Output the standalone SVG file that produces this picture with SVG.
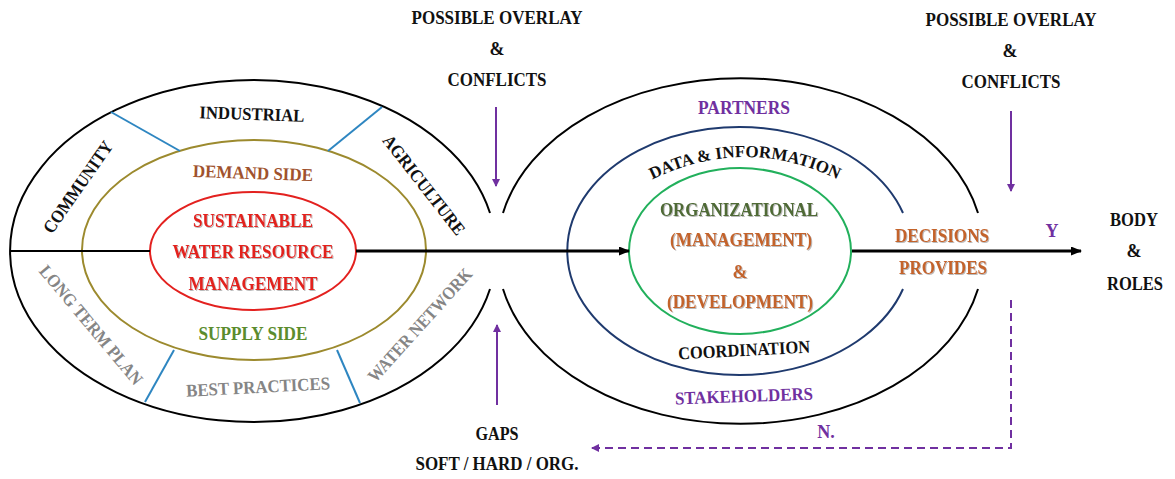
<svg xmlns="http://www.w3.org/2000/svg" width="1175" height="479" viewBox="0 0 1175 479">
<defs>
<marker id="ah" markerWidth="11" markerHeight="9" refX="10" refY="4.5" orient="auto" markerUnits="userSpaceOnUse"><path d="M0,0 L11,4.5 L0,9 Z" fill="#000"/></marker>
<marker id="ahp" markerWidth="8" markerHeight="8" refX="7" refY="4" orient="auto" markerUnits="userSpaceOnUse"><path d="M0,0 L8,4 L0,8 Z" fill="#7030A0"/></marker>
<filter id="sh" x="-10%" y="-40%" width="120%" height="180%"><feDropShadow dx="1" dy="1" stdDeviation="0.6" flood-color="#777" flood-opacity="0.5"/></filter>
<path id="arcData" d="M 638 187 Q 745 127 852 187"/>
</defs>
<style>
text{font-family:"Liberation Serif","Times New Roman",serif;font-weight:bold;font-size:18px;text-anchor:middle;fill:#111}
.red{fill:#E3211F;filter:url(#sh)}
.brown{fill:#A0522D}
.sup{fill:#5B8C2E}
.gray{fill:#858585}
.pur{fill:#7030A0}
.org{fill:#C4642C;filter:url(#sh)}
.dg{fill:#4F6B36;filter:url(#sh)}
.blk{fill:none;stroke:#000;stroke-width:2}
.div{stroke:#2E86C1;stroke-width:2}
.pa{stroke:#7030A0;stroke-width:2;fill:none}
</style>
<rect width="1175" height="479" fill="#fff"/>

<g id="left-cluster">
  <path class="blk" d="M 490 213 A 243 171 0 1 0 490 289"/>
  <ellipse cx="254" cy="250" rx="172" ry="110" fill="none" stroke="#9C8A2E" stroke-width="2"/>
  <ellipse cx="253" cy="251" rx="103" ry="59" fill="none" stroke="#E3211F" stroke-width="2"/>
  <line class="div" x1="111" y1="112" x2="180" y2="151"/>
  <line class="div" x1="382" y1="107" x2="328" y2="151"/>
  <line class="div" x1="174" y1="350" x2="145" y2="402"/>
  <line class="div" x1="337" y1="350" x2="360" y2="403"/>
  <text x="252" y="120" textLength="105" lengthAdjust="spacingAndGlyphs" transform="rotate(2 252 113)">INDUSTRIAL</text>
  <text class="brown" x="253" y="179" textLength="120" lengthAdjust="spacingAndGlyphs" transform="rotate(2 253 172)">DEMAND SIDE</text>
  <text class="red" x="253" y="227" textLength="120" lengthAdjust="spacingAndGlyphs">SUSTAINABLE</text>
  <text class="red" x="253" y="258" textLength="161" lengthAdjust="spacingAndGlyphs">WATER RESOURCE</text>
  <text class="red" x="253" y="290" textLength="129" lengthAdjust="spacingAndGlyphs">MANAGEMENT</text>
  <text class="sup" x="253" y="340" textLength="109" lengthAdjust="spacingAndGlyphs">SUPPLY SIDE</text>
  <text class="gray" x="258" y="393" textLength="144" lengthAdjust="spacingAndGlyphs" transform="rotate(-3 258 386)">BEST PRACTICES</text>
  <text x="0" y="6" textLength="108" lengthAdjust="spacingAndGlyphs" transform="translate(78 187) rotate(-55)">COMMUNITY</text>
  <text x="0" y="6" textLength="122" lengthAdjust="spacingAndGlyphs" transform="translate(424 185) rotate(52)">AGRICULTURE</text>
  <text class="gray" x="0" y="6" textLength="150" lengthAdjust="spacingAndGlyphs" transform="translate(91 325) rotate(50)">LONG TERM PLAN</text>
  <text class="gray" x="0" y="6" textLength="146" lengthAdjust="spacingAndGlyphs" transform="translate(420 325) rotate(-48)">WATER NETWORK</text>
</g>

<g id="right-cluster">
  <path class="blk" d="M 503 213 A 243 171 0 0 1 978 213"/>
  <path class="blk" d="M 503 289 A 243 171 0 0 0 978 289"/>
  <path d="M 903 213 A 172 124 0 1 0 903 289" fill="none" stroke="#1F3A6E" stroke-width="2"/>
  <ellipse cx="740" cy="251" rx="111" ry="83" fill="none" stroke="#22B05C" stroke-width="2"/>
  <text class="pur" x="744" y="114" textLength="92" lengthAdjust="spacingAndGlyphs">PARTNERS</text>
  <text style="font-size:17px"><textPath href="#arcData" startOffset="50%">DATA &amp; INFORMATION</textPath></text>
  <text class="dg" x="739" y="216" textLength="158" lengthAdjust="spacingAndGlyphs">ORGANIZATIONAL</text>
  <text class="org" x="741" y="246" textLength="142" lengthAdjust="spacingAndGlyphs">(MANAGEMENT)</text>
  <text class="org" x="740" y="278">&amp;</text>
  <text class="org" x="740" y="308" textLength="146" lengthAdjust="spacingAndGlyphs">(DEVELOPMENT)</text>
  <text x="744" y="356" textLength="132" lengthAdjust="spacingAndGlyphs" transform="rotate(-3 744 349)">COORDINATION</text>
  <text class="pur" x="744" y="402" textLength="138" lengthAdjust="spacingAndGlyphs" transform="rotate(-2 744 396)">STAKEHOLDERS</text>
  <text class="org" x="942" y="242" textLength="94" lengthAdjust="spacingAndGlyphs">DECISIONS</text>
  <text class="org" x="943" y="274" textLength="88" lengthAdjust="spacingAndGlyphs">PROVIDES</text>
</g>

<g id="overlay-top">
  <text x="497" y="24" textLength="171" lengthAdjust="spacingAndGlyphs">POSSIBLE OVERLAY</text>
  <text x="497" y="55">&amp;</text>
  <text x="497" y="86" textLength="99" lengthAdjust="spacingAndGlyphs">CONFLICTS</text>
</g>
<g id="overlay-right">
  <text x="1011" y="26" textLength="171" lengthAdjust="spacingAndGlyphs">POSSIBLE OVERLAY</text>
  <text x="1010" y="57">&amp;</text>
  <text x="1011" y="88" textLength="99" lengthAdjust="spacingAndGlyphs">CONFLICTS</text>
</g>
<g id="gaps">
  <text x="497" y="440" textLength="43" lengthAdjust="spacingAndGlyphs">GAPS</text>
  <text x="497" y="470" textLength="163" lengthAdjust="spacingAndGlyphs">SOFT / HARD / ORG.</text>
</g>
<g id="body-roles">
  <text x="1134" y="226" textLength="48" lengthAdjust="spacingAndGlyphs">BODY</text>
  <text x="1134" y="257">&amp;</text>
  <text x="1135" y="290" textLength="56" lengthAdjust="spacingAndGlyphs">ROLES</text>
</g>

<g id="connectors">
  <line x1="10" y1="251" x2="150" y2="251" stroke="#000" stroke-width="2"/>
  <line x1="356" y1="251" x2="629" y2="251" stroke="#000" stroke-width="3" marker-end="url(#ah)"/>
  <line x1="852" y1="251" x2="1081" y2="251" stroke="#000" stroke-width="3" marker-end="url(#ah)"/>
  <line class="pa" x1="496" y1="107" x2="496" y2="186" marker-end="url(#ahp)"/>
  <line class="pa" x1="497" y1="405" x2="497" y2="325" marker-end="url(#ahp)"/>
  <line class="pa" x1="1011" y1="111" x2="1011" y2="191" marker-end="url(#ahp)"/>
  <path class="pa" d="M 1011 300 L 1011 448 L 592 448" stroke-dasharray="8 5" marker-end="url(#ahp)"/>
  <text class="pur" x="1052" y="237">Y</text>
  <text class="pur" x="826" y="438">N.</text>
</g>
</svg>
